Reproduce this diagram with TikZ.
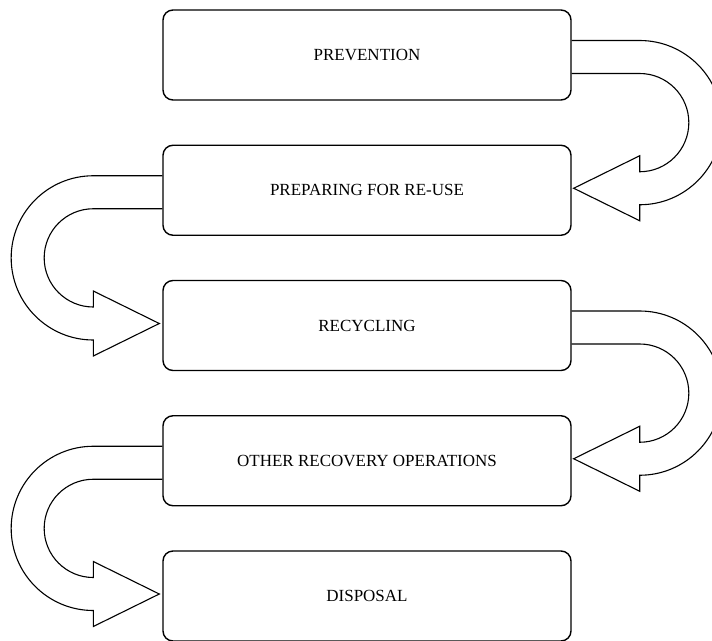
\documentclass[tikz,border=0pt]{standalone}
\usepackage{fontspec}
\setmainfont{Liberation Serif}
\usetikzlibrary{calc}

\tikzset{
	stage/.style={draw, rounded corners=10pt, line width=1.4pt, minimum width=408pt, minimum height=90pt, inner sep=0pt, font=\fontsize{17}{20}\selectfont},
	uturn/.style={draw, line width=1.1pt, line join=miter}
}

% hollow u-turn arrow on the right, from box #1 down to box #2
\def\uturnright#1#2{\draw[uturn] let \p1=(#1.east), \p2=(#2.east), \n1={(\y1-\y2)/2+14.5pt}, \n2={(\y1-\y2)/2-18.5pt} in
	(\x1, \y1+14.5pt) -- (\x1+68pt, \y1+14.5pt) arc[start angle=90, end angle=-90, radius=\n1]
	-- (\x1+68pt, \y2-30.5pt) -- (\x2+2pt, \y2+2pt) -- (\x1+68pt, \y2+34.5pt) -- (\x1+68pt, \y2+18.5pt)
	arc[start angle=-90, end angle=90, radius=\n2] -- (\x1, \y1-18.5pt);}

% same on the left side
\def\uturnleft#1#2{\draw[uturn] let \p1=(#1.west), \p2=(#2.west), \n1={(\y1-\y2)/2+14.5pt}, \n2={(\y1-\y2)/2-18.5pt} in
	(\x1, \y1+14.5pt) -- (\x1-69pt, \y1+14.5pt) arc[start angle=90, end angle=270, radius=\n1]
	-- (\x1-69pt, \y2-30.5pt) -- (\x2-3pt, \y2+2pt) -- (\x1-69pt, \y2+34.5pt) -- (\x1-69pt, \y2+18.5pt)
	arc[start angle=270, end angle=90, radius=\n2] -- (\x1, \y1-18.5pt);}

\begin{document}
\begin{tikzpicture}[x=1pt, y=1pt]
	%%%%% START %%%%%
	\useasboundingbox (0, 0) rectangle (712, -640);

	\node[stage] (prevention) at (367, -55) {PREVENTION};
	\node[stage] (reuse) at (367, -190.25) {PREPARING FOR RE-USE};
	\node[stage] (recycling) at (367, -325.5) {RECYCLING};
	\node[stage] (recovery) at (367, -460.75) {OTHER RECOVERY OPERATIONS};
	\node[stage] (disposal) at (367, -596) {DISPOSAL};

	\uturnright{prevention}{reuse}
	\uturnleft{reuse}{recycling}
	\uturnright{recycling}{recovery}
	\uturnleft{recovery}{disposal}
	%%%%% END %%%%%
\end{tikzpicture}
\end{document}
